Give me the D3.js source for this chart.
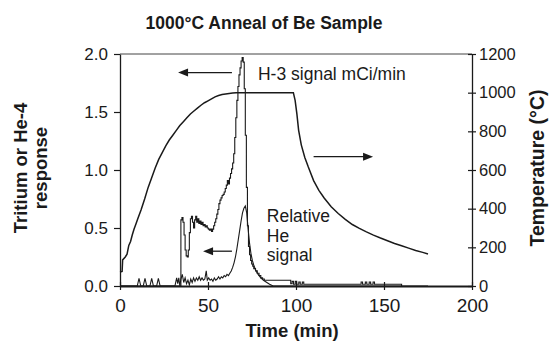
<!DOCTYPE html>
<html>
<head>
<meta charset="utf-8">
<script src="https://cdn.jsdelivr.net/npm/d3@7"></script>
<style>
body { margin: 0; background: #fff; }
svg { display: block; font-family: "Liberation Sans", Arial, sans-serif; }
</style>
</head>
<body>
<svg></svg>
<script>
// furnace temperature (right axis, deg C)
var tempTime = [0, 1.2, 1.5, 3, 4, 5, 6, 7, 8, 9, 10, 12, 14, 16, 18, 20, 22, 24, 26, 28,
    30, 32, 34, 36, 38, 40, 42, 44, 46, 48, 50, 52, 54, 56, 58, 60, 62, 64, 66,
    98.5, 99.5, 100.5, 101.5, 103, 105, 107, 110, 113, 116, 120, 124, 128, 132, 136,
    140, 144, 148, 152, 156, 160, 164, 168, 172, 175]
var tempC = [72, 75, 135, 150, 165, 210, 230, 265, 295, 320, 345, 395, 450, 510, 560, 610, 655, 690, 725, 755,
    780, 805, 830, 850, 870, 890, 905, 920, 935, 948, 958, 968, 978, 985, 990, 993, 996, 998, 1000,
    1000, 960, 890, 805, 730, 665, 615, 545, 495, 455, 410, 375, 345, 318, 298,
    280, 263, 248, 234, 220, 208, 196, 184, 174, 166]

// H-3 signal, mCi/min (left axis)
var h3Time = [0, 34.6, 35.2, 35.8, 36.4, 37, 37.6, 38.2, 38.8, 39.4, 40, 40.6, 41.2, 41.8, 42.4, 43, 43.6, 44.2, 44.8, 45.4,
    46, 46.6, 47.2, 47.8, 48.4, 49, 49.6, 50.2, 50.8, 51.4, 52, 52.6, 53.2, 53.8, 54.4, 55, 55.6, 56.2, 56.8, 57.4,
    58, 58.6, 59.2, 59.8, 60.4, 61, 61.6, 62.2, 62.8, 63.4, 64, 64.6, 65.2, 65.8, 66.4, 67, 67.6, 68.2, 68.8, 69.4,
    70, 70.6, 71.2, 71.8, 72.4, 73, 73.6, 74.2, 74.8, 75.4, 76, 77, 78, 79, 80, 81, 82,
    97, 97.8, 98.6, 99.6, 100.4, 101.6, 102.4, 103.6, 104.4,
    137, 137.8, 139.4, 140.2, 141.6, 142.4, 143.8, 144.6, 160]
var h3Signal = [0, 0.57, 0.59, 0.55, 0.44, 0.31, 0.26, 0.25, 0.31, 0.46, 0.58, 0.60, 0.55, 0.50, 0.57, 0.60, 0.55, 0.58, 0.54, 0.56,
    0.53, 0.55, 0.52, 0.53, 0.51, 0.52, 0.50, 0.49, 0.48, 0.49, 0.47, 0.49, 0.52, 0.55, 0.58, 0.62, 0.66, 0.71, 0.74, 0.76,
    0.78, 0.79, 0.81, 0.84, 0.87, 0.91, 0.88, 0.93, 0.97, 1.01, 1.06, 1.14, 1.28, 1.45, 1.60, 1.72, 1.82, 1.88, 1.94, 1.97,
    1.93, 1.70, 1.30, 0.85, 0.52, 0.34, 0.27, 0.22, 0.19, 0.17, 0.15, 0.13, 0.11, 0.09, 0.07, 0.06, 0.05,
    0.02, 0.04, 0.015, 0.04, 0.015, 0.035, 0.015, 0.035, 0.015,
    0.035, 0.015, 0.035, 0.015, 0.035, 0.015, 0.035, 0.015, 0]

// relative He-4 signal (left axis)
var heTime = [0, 9.8, 10.8, 11.8, 13.2, 14.2, 15.2, 17, 18, 19, 20.8, 21.8, 22.8, 31.2, 32.2, 32.8, 33.4, 34, 34.6, 35.4,
    36.2, 37, 37.8, 38.6, 39.4, 40.2, 41, 41.8, 42.6, 43.4, 44.2, 45, 45.8, 46.6, 47.4, 48.2, 49, 49.6, 50.4, 51.2,
    52, 52.8, 53.6, 54.4, 55.2, 56, 56.8, 57.6, 58.4, 59.2, 60, 60.8, 61.6, 62.4, 63.2, 64, 64.8, 65.6, 66.4, 67.2,
    68, 68.8, 69.6, 70.4, 71.2, 72, 72.8, 73.6, 74.4, 75.2, 76, 77, 78, 79, 80, 81.5, 83, 85, 87, 175]
var heSignal = [0, 0, 0.066, 0, 0, 0.066, 0, 0, 0.066, 0, 0, 0.066, 0, 0, 0.07, 0.02, 0.07, 0, 0.06, 0.1,
    0.03, 0.07, 0.02, 0.05, 0.01, 0.06, 0.03, 0.07, 0.04, 0.07, 0.05, 0.08, 0.05, 0.07, 0.05, 0.06, 0.13, 0.05, 0.07, 0.05,
    0.06, 0.04, 0.07, 0.05, 0.06, 0.08, 0.06, 0.08, 0.07, 0.09, 0.08, 0.10, 0.09, 0.11, 0.13, 0.16, 0.20, 0.25, 0.32, 0.40,
    0.48, 0.56, 0.63, 0.67, 0.69, 0.63, 0.49, 0.37, 0.28, 0.22, 0.18, 0.14, 0.11, 0.09, 0.07, 0.05, 0.035, 0.015, 0, 0]

var timeTicks = [0, 50, 100, 150, 200]
var responseTicks = [0, 0.5, 1.0, 1.5, 2.0]
var tempTicks = [0, 200, 400, 600, 800, 1000, 1200]

var svgWidth = 551,
    svgHeight = 342,
    ink = "#1a1a1a"

var svg = d3.select("svg")
    .attr("width", svgWidth)
    .attr("height", svgHeight)

var x = d3.scaleLinear().domain([0, 200]).range([120, 472])
var yL = d3.scaleLinear().domain([0, 2]).range([286, 54])
var yR = d3.scaleLinear().domain([0, 1200]).range([286, 54])

// top frame line
svg.append("line")
    .attr("x1", x(0)).attr("x2", x(200))
    .attr("y1", yL(2)).attr("y2", yL(2))
    .attr("stroke", "#444").attr("stroke-width", 1)

// axes
function styleAxis(g, size) {
    g.attr("font-family", null).attr("font-size", size)
    g.select(".domain").attr("stroke", ink).attr("stroke-width", 1.3)
    g.selectAll(".tick line").attr("stroke", ink).attr("stroke-width", 1.2)
    g.selectAll("text").attr("fill", ink)
}

var gx = svg.append("g")
    .attr("transform", "translate(0," + yL(0) + ")")
    .call(d3.axisBottom(x).tickValues(timeTicks).tickSize(4).tickSizeOuter(0).tickPadding(9))
styleAxis(gx, 19)
gx.selectAll(".tick line").attr("y1", -4)
gx.select(".domain").attr("stroke-width", 1.8)

var gl = svg.append("g")
    .attr("transform", "translate(" + x(0) + ",0)")
    .call(d3.axisLeft(yL).tickValues(responseTicks).tickFormat(d3.format(".1f")).tickSize(6).tickSizeOuter(0).tickPadding(6))
styleAxis(gl, 17)

var gr = svg.append("g")
    .attr("transform", "translate(" + x(200) + ",0)")
    .call(d3.axisRight(yR).tickValues(tempTicks).tickFormat(d3.format("d")).tickSize(4).tickSizeOuter(0).tickPadding(3))
styleAxis(gr, 16.5)
gr.selectAll(".tick line").attr("x1", -4)

// series
var tempLine = d3.line()
    .x((d, i) => x(tempTime[i]))
    .y((d) => yR(d))

var h3Line = d3.line()
    .curve(d3.curveStepAfter)
    .x((d, i) => x(h3Time[i]))
    .y((d) => yL(d))

var heLine = d3.line()
    .x((d, i) => x(heTime[i]))
    .y((d) => yL(d))

svg.append("path")
    .attr("d", heLine(heSignal))
    .attr("fill", "none").attr("stroke", ink).attr("stroke-width", 1.1)

svg.append("path")
    .attr("d", h3Line(h3Signal))
    .attr("fill", "none").attr("stroke", ink).attr("stroke-width", 1.1)

svg.append("path")
    .attr("d", tempLine(tempC))
    .attr("fill", "none").attr("stroke", ink).attr("stroke-width", 1.5)

// arrows
function arrow(x1, y1, x2, y2) {
    var dir = x2 > x1 ? 1 : -1
    svg.append("line")
        .attr("x1", x1).attr("y1", y1).attr("x2", x2 - dir * 8).attr("y2", y2)
        .attr("stroke", ink).attr("stroke-width", 1.3)
    svg.append("path")
        .attr("d", "M" + x2 + "," + y2 + "L" + (x2 - dir * 10) + "," + (y2 - 4) + "L" + (x2 - dir * 10) + "," + (y2 + 4) + "Z")
        .attr("fill", ink)
}
arrow(x(63.6), yL(1.84), x(33), yL(1.84))
arrow(x(63.6), yL(0.30), x(47.2), yL(0.30))
arrow(x(110), yR(669), x(143.8), yR(669))

// annotations
svg.append("text")
    .attr("x", x(78.4)).attr("y", yL(1.78))
    .attr("font-size", 17.5).attr("fill", ink)
    .text("H-3 signal mCi/min")

var heLabel = svg.append("text")
    .attr("x", x(83.4)).attr("y", yL(0.55))
    .attr("font-size", 17.5).attr("fill", ink)
heLabel.selectAll("tspan")
    .data(["Relative", "He", "signal"])
    .enter()
    .append("tspan")
    .attr("x", x(83.4))
    .attr("dy", (d, i) => i == 0 ? 0 : 19.5)
    .text((d) => d)

// titles
svg.append("text")
    .attr("x", 264).attr("y", 29)
    .attr("text-anchor", "middle")
    .attr("font-size", 17.5).attr("font-weight", "bold").attr("fill", ink)
    .text("1000°C Anneal of Be Sample")

svg.append("text")
    .attr("x", 292).attr("y", 337)
    .attr("text-anchor", "middle")
    .attr("font-size", 18.5).attr("font-weight", "bold").attr("fill", ink)
    .text("Time (min)")

var yTitle = svg.append("text")
    .attr("transform", "translate(27,168) rotate(-90)")
    .attr("text-anchor", "middle")
    .attr("font-size", 18.5).attr("font-weight", "bold").attr("fill", ink)
yTitle.append("tspan").attr("x", 0).attr("y", 0).text("Tritium or He-4")
yTitle.append("tspan").attr("x", 0).attr("y", 20).text("response")

svg.append("text")
    .attr("transform", "translate(544,168) rotate(-90)")
    .attr("text-anchor", "middle")
    .attr("font-size", 19.5).attr("font-weight", "bold").attr("fill", ink)
    .text("Temperature (°C)")
</script>
</body>
</html>
